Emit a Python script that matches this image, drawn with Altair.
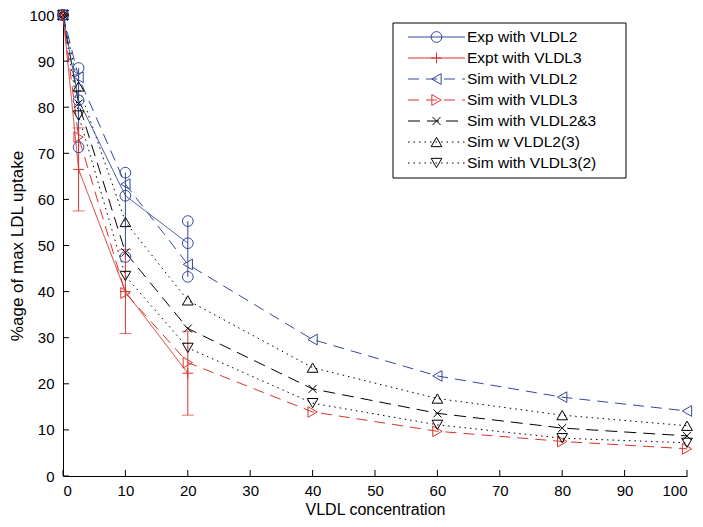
import altair as alt
import pandas as pd

# ---------------- data ----------------
series_names = ["Exp with VLDL2", "Expt with VLDL3", "Sim with VLDL2", "Sim with VLDL3",
                "Sim with VLDL2&3", "Sim w VLDL2(3)", "Sim with VLDL3(2)"]

x_sim = [0, 2.5, 10, 20, 40, 60, 80, 100]
sim_vldl2 = [100, 86.5, 63.3, 45.9, 29.6, 21.7, 17.1, 14.1]
sim_vldl3 = [100, 73.5, 39.7, 24.6, 13.9, 9.7, 7.5, 5.9]
sim_vldl23 = [100, 80.8, 48.5, 32.0, 18.9, 13.6, 10.4, 8.7]
sim_w_vldl2_3 = [100, 84.5, 55.1, 38.1, 23.5, 16.8, 13.2, 10.9]
sim_vldl3_2 = [100, 78.2, 43.4, 27.8, 15.8, 11.1, 8.2, 7.2]

x_exp = [0, 2.5, 10, 20]
exp2_mean = [100, 81.5, 60.8, 50.5]
exp2_high = [100, 88.5, 65.8, 55.3]
exp2_low = [100, 71.3, 47.5, 43.2]
exp3_mean = [100, 66.5, 40.0, 22.3]
exp3_err = [0, 9.0, 9.1, 9.1]

x_ticks = [0, 10, 20, 30, 40, 50, 60, 70, 80, 90, 100]
y_ticks = [0, 10, 20, 30, 40, 50, 60, 70, 80, 90, 100]

# ---------------- styles ----------------
BLUE = "#34489a"
RED = "#d8342a"
colors = [BLUE, RED, BLUE, RED, "#000000", "#000000", "#000000"]
dashes = [[1, 0], [1, 0], [11, 7], [11, 7], [12, 7], [1.5, 4], [1.5, 4]]
PLUS = "M-1,0H1M0,-1V1"
XSH = "M-0.75,-0.75L0.75,0.75M-0.75,0.75L0.75,-0.75"
shapes = ["circle", PLUS, "triangle-left", "triangle-right", XSH, "triangle-up", "triangle-down"]

W, H = 624, 461
FONT = "Liberation Sans"
MSIZE = 115

color_scale = alt.Scale(domain=series_names, range=colors)
dash_scale = alt.Scale(domain=series_names, range=dashes)
shape_scale = alt.Scale(domain=series_names, range=shapes)
xs = alt.Scale(domain=[0, 100], nice=False, zero=False)
ys = alt.Scale(domain=[0, 100], nice=False, zero=False)

# ---------------- tables ----------------
line_rows = []
pt_rows = []
sims = [("Sim with VLDL2", sim_vldl2), ("Sim with VLDL3", sim_vldl3),
        ("Sim with VLDL2&3", sim_vldl23), ("Sim w VLDL2(3)", sim_w_vldl2_3),
        ("Sim with VLDL3(2)", sim_vldl3_2)]
for name, vals in sims:
    for i, (x, y) in enumerate(zip(x_sim, vals)):
        line_rows.append({"series": name, "x": x, "y": y, "o": i})
        pt_rows.append({"series": name, "x": x, "y": y})
for i, x in enumerate(x_exp):
    line_rows.append({"series": "Exp with VLDL2", "x": x, "y": exp2_mean[i], "o": i})
    line_rows.append({"series": "Expt with VLDL3", "x": x, "y": exp3_mean[i], "o": i})
    for v in (exp2_high[i], exp2_mean[i], exp2_low[i]):
        pt_rows.append({"series": "Exp with VLDL2", "x": x, "y": v})
    pt_rows.append({"series": "Expt with VLDL3", "x": x, "y": exp3_mean[i]})
lines_df = pd.DataFrame(line_rows)
pts_df = pd.DataFrame(pt_rows)

err_rows = []
cap_rows = []
for i, x in enumerate(x_exp):
    if i == 0:
        continue
    err_rows.append({"series": "Exp with VLDL2", "x": x, "lo": exp2_low[i], "hi": exp2_high[i]})
    lo3 = exp3_mean[i] - exp3_err[i]
    hi3 = exp3_mean[i] + exp3_err[i]
    err_rows.append({"series": "Expt with VLDL3", "x": x, "lo": lo3, "hi": hi3})
    cap_rows.append({"series": "Expt with VLDL3", "x": x, "y": lo3})
    cap_rows.append({"series": "Expt with VLDL3", "x": x, "y": hi3})
err_df = pd.DataFrame(err_rows)
cap_df = pd.DataFrame(cap_rows)

# legend geometry (pixels inside plot area, converted to data units)
def px_x(p):
    return p / W * 100.0

def px_y(p):
    return 100.0 - p / H * 100.0

leg_rows = []
for k, name in enumerate(series_names):
    py = 22 + 21 * k
    leg_rows.append({"series": name, "x1": px_x(345), "x2": px_x(402), "xm": px_x(373.5),
                     "xt": px_x(404), "y": px_y(py)})
leg_df = pd.DataFrame(leg_rows)
box_df = pd.DataFrame([{"x1": px_x(330), "x2": px_x(563), "y1": px_y(8), "y2": px_y(163)}])

tick_x_df = pd.DataFrame({"t": x_ticks})
tick_y_df = pd.DataFrame({"t": y_ticks})

# ---------------- layers ----------------
x_axis = alt.Axis(values=x_ticks, ticks=False, tickSize=0, grid=False, domainColor="black",
                  domainWidth=1, labelFont=FONT, labelFontSize=15, labelColor="black",
                  labelPadding=7, title="VLDL concentration", titleFont=FONT,
                  titleFontSize=16, titleFontWeight="normal", titleColor="black", titlePadding=3)
y_axis = alt.Axis(values=y_ticks, ticks=False, tickSize=0, grid=False, domainColor="black",
                  domainWidth=1, labelFont=FONT, labelFontSize=15, labelColor="black",
                  labelPadding=9, title="%age of max LDL uptake", titleFont=FONT,
                  titleFontSize=17, titleFontWeight="normal", titleColor="black", titlePadding=2)

lines = alt.Chart(lines_df).mark_line(strokeWidth=1).encode(
    x=alt.X("x:Q", scale=xs, axis=x_axis),
    y=alt.Y("y:Q", scale=ys, axis=y_axis),
    color=alt.Color("series:N", scale=color_scale, legend=None),
    strokeDash=alt.StrokeDash("series:N", scale=dash_scale, legend=None),
    detail="series:N",
    order="o:Q",
)

errs = alt.Chart(err_df).mark_rule(strokeWidth=1).encode(
    x="x:Q", y="lo:Q", y2="hi:Q",
    color=alt.Color("series:N", scale=color_scale, legend=None),
)

caps = alt.Chart(cap_df).mark_tick(orient="horizontal", size=12, thickness=1).encode(
    x="x:Q", y="y:Q",
    color=alt.Color("series:N", scale=color_scale, legend=None),
)

points = alt.Chart(pts_df).mark_point(filled=False, strokeWidth=1, size=MSIZE, opacity=1).encode(
    x="x:Q", y="y:Q",
    color=alt.Color("series:N", scale=color_scale, legend=None),
    shape=alt.Shape("series:N", scale=shape_scale, legend=None),
)

xt = alt.Chart(tick_x_df).mark_rule(color="black", strokeWidth=1).encode(
    x="t:Q", y=alt.value(H), y2=alt.value(H - 6))
yt = alt.Chart(tick_y_df).mark_rule(color="black", strokeWidth=1).encode(
    y="t:Q", x=alt.value(0), x2=alt.value(6))

box = alt.Chart(box_df).mark_rect(fill="white", stroke="black", strokeWidth=1).encode(
    x="x1:Q", x2="x2:Q", y="y1:Q", y2="y2:Q")

leg_lines = alt.Chart(leg_df).mark_rule(strokeWidth=1).encode(
    x="x1:Q", x2="x2:Q", y="y:Q",
    color=alt.Color("series:N", scale=color_scale, legend=None),
    strokeDash=alt.StrokeDash("series:N", scale=dash_scale, legend=None),
)
leg_pts = alt.Chart(leg_df).mark_point(filled=False, strokeWidth=1, size=MSIZE, opacity=1).encode(
    x="xm:Q", y="y:Q",
    color=alt.Color("series:N", scale=color_scale, legend=None),
    shape=alt.Shape("series:N", scale=shape_scale, legend=None),
)
leg_text = alt.Chart(leg_df).mark_text(align="left", baseline="middle", font=FONT,
                                       fontSize=15.5, color="black").encode(
    x="xt:Q", y="y:Q", text="series:N")

chart = alt.layer(
    lines, errs, caps, points, xt, yt, box, leg_lines, leg_pts, leg_text
).properties(
    width=W, height=H,
    autosize=alt.AutoSizeParams(type="none"),
    padding={"left": 55, "top": 7, "right": 8, "bottom": 43},
    background="white",
).configure_view(stroke=None)

chart.save("out.html", embed_options={"renderer": "svg", "actions": False})
